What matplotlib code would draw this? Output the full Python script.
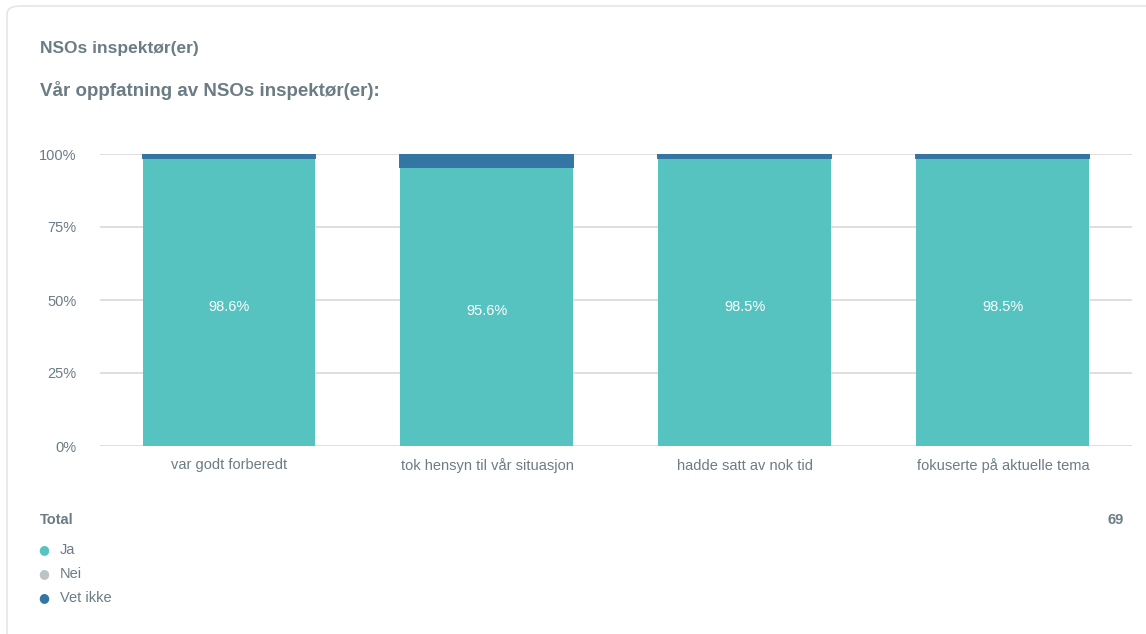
import matplotlib.pyplot as plt
from matplotlib.patches import FancyBboxPatch
import numpy as np

plt.rcParams['font.family'] = ['Liberation Sans', 'DejaVu Sans']

# data
categories = ["var godt forberedt", "tok hensyn til vår situasjon",
              "hadde satt av nok tid", "fokuserte på aktuelle tema"]
ja = [98.6, 95.6, 98.5, 98.5]
nei = [0.0, 0.0, 0.0, 0.0]
vet_ikke = [1.4, 4.4, 1.5, 1.5]
series_names = ["Ja", "Nei", "Vet ikke"]
series_colors = ["#57c3c0", "#bdc3c7", "#3476a3"]
y_ticks = [0, 25, 50, 75, 100]
total_n = 69

text_col = "#6b7c85"
W, H = 1146, 634
fig = plt.figure(figsize=(W / 100, H / 100), dpi=100)

# kort-ramme (bak aksene)
card = FancyBboxPatch((7 / W, -0.1), 1.2, (H - 6) / H + 0.1,
                      boxstyle="round,pad=0,rounding_size=0.012",
                      transform=fig.transFigure, facecolor="white",
                      edgecolor="#e3e6ea", linewidth=1.2, zorder=-10)
fig.patches.append(card)

ax = fig.add_axes([100 / W, 1 - 446 / H, (1132 - 100) / W, (446 - 154) / H])
ax.set_facecolor("none")

x = np.arange(len(categories))
bw = 173 / 258
bottom = np.zeros(len(categories))
for name, vals, col in zip(series_names, [ja, nei, vet_ikke], series_colors):
    # Vet ikke-segmentet tegnes med kant i samme farge, som i originalen
    lw = 1.4 if name == "Vet ikke" else 0
    ax.bar(x, vals, bw, bottom=bottom, color=col, zorder=3,
           edgecolor=col, linewidth=lw)
    bottom += np.array(vals)

for xi, v in zip(x, ja):
    ax.text(xi, v / 2 - 1.6, f"{v:.1f}%", ha="center", va="center",
            color="white", fontsize=10.5, zorder=4)

ax.set_xlim(-0.5, len(categories) - 0.5)
ax.set_ylim(0, 100)
ax.set_yticks(y_ticks)
ax.set_yticklabels([f"{t}%" for t in y_ticks])
ax.yaxis.grid(True, color="#dcdcdc", linewidth=1.3, zorder=0)
ax.set_axisbelow(True)
ax.set_xticks(x)
ax.set_xticklabels(categories)
ax.tick_params(axis="both", length=0, colors=text_col, labelsize=10.5)
ax.tick_params(axis="y", pad=17)
ax.tick_params(axis="x", pad=9)
for s in ax.spines.values():
    s.set_visible(False)

fig.text(40 / W, 1 - 48 / H, "NSOs inspektør(er)", fontsize=12.5,
         fontweight="bold", color=text_col, va="center")
fig.text(40 / W, 1 - 90 / H, "Vår oppfatning av NSOs inspektør(er):",
         fontsize=13.5, fontweight="bold", color=text_col, va="center")

fig.text(40 / W, 1 - 520 / H, "Total", fontsize=10.5, fontweight="bold",
         color=text_col, va="center")
fig.text(1124 / W, 1 - 520 / H, str(total_n), fontsize=10.5,
         fontweight="bold", color=text_col, va="center", ha="right")

for i, (name, col) in enumerate(zip(series_names, series_colors)):
    yy = 1 - (550 + 24 * i) / H
    fig.text(44 / W, yy, "\u25cf", color=col, fontsize=9, va="center",
             ha="center", family=["DejaVu Sans"])
    fig.text(60 / W, yy, name, color=text_col, fontsize=10.5, va="center")

fig.savefig("out.png", dpi=100)
